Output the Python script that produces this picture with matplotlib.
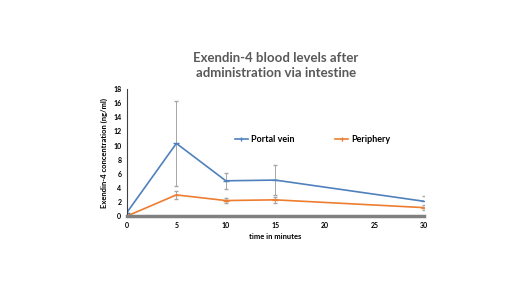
import numpy as np
import matplotlib.pyplot as plt
from matplotlib.lines import Line2D

# datos
tiempo = [0, 5, 10, 15, 30]
portal = [0.5, 10.3, 5.0, 5.1, 2.1]
portal_err = [0.0, 6.0, 1.1, 2.1, 0.8]
periferia = [0.0, 3.0, 2.2, 2.3, 1.2]
periferia_err = [0.0, 0.6, 0.3, 0.4, 0.4]

plt.rcParams['font.family'] = ['Lato', 'DejaVu Sans']

azul = '#4f81bd'
naranja = '#ed7d31'

fig = plt.figure(figsize=(5.2, 2.92), dpi=100)
ax = fig.add_axes([0.244, 0.26, 0.571, 0.435])

ax.errorbar(tiempo, portal, yerr=portal_err, color=azul, lw=1.2,
            marker='_', ms=4, ecolor='#a6a6a6', elinewidth=0.7, capsize=1.5)
ax.errorbar(tiempo, periferia, yerr=periferia_err, color=naranja, lw=1.2,
            marker='_', ms=4, ecolor='#a6a6a6', elinewidth=0.7, capsize=1.5)

ax.set_xlim(0, 30)
ax.set_ylim(0, 18)
ax.set_xticks([0, 5, 10, 15, 20, 25, 30])
ax.set_yticks(np.arange(0, 19, 2))
for s in ['top', 'right']:
    ax.spines[s].set_visible(False)
ax.spines['bottom'].set_color('#808080')
ax.spines['bottom'].set_linewidth(2.5)
ax.spines['left'].set_color('#404040')
ax.spines['left'].set_linewidth(0.8)
ax.tick_params(labelsize=5, length=0, pad=4)
for t in ax.get_xticklabels() + ax.get_yticklabels():
    t.set_fontweight('bold')

ax.set_xlabel('time in minutes', fontsize=5.5, fontweight='bold', labelpad=3)
ax.set_ylabel('Exendin-4 concentration (ng/ml)', fontsize=5.5, fontweight='bold', labelpad=4)

fig.text(0.53, 0.775, 'Exendin-4 blood levels after\nadministration via intestine',
         ha='center', va='center', fontsize=9.5, fontweight='bold', color='#595959',
         linespacing=1.3)

handles = [Line2D([], [], color=azul, lw=1.2, marker='|', ms=3),
           Line2D([], [], color=naranja, lw=1.2, marker='|', ms=3)]
leg = ax.legend(handles, ['Portal vein', 'Periphery'], loc='center',
                bbox_to_anchor=(0.625, 0.6), ncol=2, frameon=False,
                fontsize=6.5, handlelength=1.5, handletextpad=0.3, columnspacing=4.5)
for t in leg.get_texts():
    t.set_fontweight('bold')

fig.savefig('out.png', dpi=100)
